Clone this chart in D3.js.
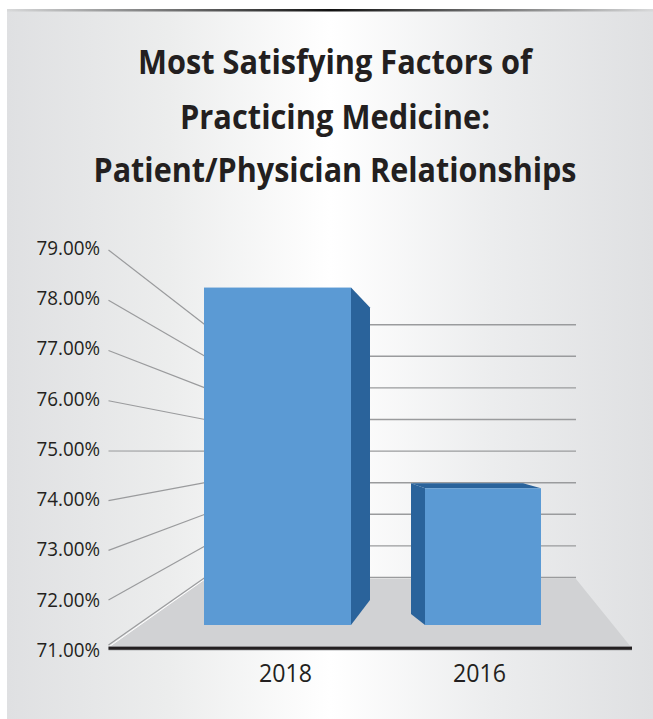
<!DOCTYPE html>
<html>
<head>
<meta charset="utf-8">
<script src="https://cdn.jsdelivr.net/npm/d3@7"></script>
<style>
  html, body { margin: 0; padding: 0; background: #fff; }
  svg { display: block; }
  text { font-family: "Open Sans", sans-serif; fill: #231f20; }
</style>
</head>
<body>
<svg id="chart" width="653" height="719"></svg>
<script>
const titleLines = ["Most Satisfying Factors of", "Practicing Medicine:", "Patient/Physician Relationships"];
const categories = ["2018", "2016"];
const values = [78.6, 74.08];
const ticks = [71, 72, 73, 74, 75, 76, 77, 78, 79];

const svg = d3.select("#chart");
const defs = svg.append("defs");

const bg = defs.append("linearGradient").attr("id", "bg");
bg.append("stop").attr("offset", "0%").attr("stop-color", "#dfe0e2");
bg.append("stop").attr("offset", "25%").attr("stop-color", "#eceded");
bg.append("stop").attr("offset", "50%").attr("stop-color", "#ffffff");
bg.append("stop").attr("offset", "75%").attr("stop-color", "#ecedee");
bg.append("stop").attr("offset", "100%").attr("stop-color", "#dfe0e2");

const topLine = defs.append("linearGradient").attr("id", "topLine");
topLine.append("stop").attr("offset", "0%").attr("stop-color", "#d8d9da");
topLine.append("stop").attr("offset", "50%").attr("stop-color", "#111111");
topLine.append("stop").attr("offset", "100%").attr("stop-color", "#d8d9da");

svg.append("rect").attr("x", 7).attr("y", 9).attr("width", 646).attr("height", 710).attr("fill", "url(#bg)");
svg.append("rect").attr("x", 7).attr("y", 9).attr("width", 646).attr("height", 2.5).attr("fill", "url(#topLine)");

// Open Sans is wider than the original face, so the lines are squeezed to the measured width
svg.append("g").selectAll("text")
  .data(titleLines)
  .enter().append("text")
  .attr("x", 335)
  .attr("y", (d, i) => [74, 128.5, 182][i])
  .attr("text-anchor", "middle")
  .attr("font-size", 33.5)
  .attr("font-weight", 700)
  .attr("textLength", (d, i) => [394, 310, 483][i])
  .attr("lengthAdjust", "spacingAndGlyphs")
  .text(d => d);

// the picture is a 3D chart, so one value has a different y on each plane
const labelY = d3.scaleLinear().domain([71, 79]).range([650, 248]);
const frontY = d3.scaleLinear().domain([71, 72, 75, 79]).range([645, 600, 451, 250]);
const backY = d3.scaleLinear().domain([71, 79]).range([577.5, 324.7]);
const barY = d3.scaleLinear().domain([71, 79]).range([625, 269.8]);
const x = d3.scaleBand().domain(categories).range([188.5, 576.5]);

const frontLeft = 108.5, frontRight = 631, backLeft = 205, backRight = 576;

// floor
svg.append("polygon")
  .attr("points", [[frontLeft, frontY(71) + 2], [backLeft, backY(71) + 1.5], [backRight, backY(71) + 1.5], [frontRight, frontY(71) + 2]].join(" "))
  .attr("fill", "#d1d2d4");
svg.append("line")
  .attr("x1", frontLeft + 1)
  .attr("y1", frontY(71) + 1.5)
  .attr("x2", backLeft)
  .attr("y2", backY(71) + 1.5)
  .attr("stroke", "#ffffff")
  .attr("stroke-width", 1);

// side wall and back wall lines
svg.append("g").selectAll("line")
  .data(ticks)
  .enter().append("line")
  .attr("x1", frontLeft)
  .attr("y1", d => frontY(d))
  .attr("x2", backLeft)
  .attr("y2", d => backY(d))
  .attr("stroke", "#9a9b9d")
  .attr("stroke-width", 1.2);

svg.append("g").selectAll("line")
  .data(ticks)
  .enter().append("line")
  .attr("x1", backLeft)
  .attr("y1", d => backY(d))
  .attr("x2", backRight)
  .attr("y2", d => backY(d))
  .attr("stroke", "#9a9b9d")
  .attr("stroke-width", 1.4);

// face edges relative to the tick centre, and how the depth is pushed on each bar
const faces = {
  "2018": { left: -81.5, right: 65.5, dx: 19, topDy: 20, bottomDy: -25 },
  "2016": { left: -54.5, right: 61.5, dx: -14, topDy: -5, bottomDy: -11 }
};

const bars = categories.map((c, i) => {
  const f = faces[c], cx = x(c) + x.bandwidth() / 2;
  return { c, f, l: cx + f.left, r: cx + f.right, top: barY(values[i]), bottom: barY(71) };
});

const g = svg.append("g");
bars.forEach(b => {
  const edge = b.f.dx > 0 ? b.r : b.l;
  g.append("polygon")
    .attr("points", [[edge, b.top], [edge + b.f.dx, b.top + b.f.topDy], [edge + b.f.dx, b.bottom + b.f.bottomDy], [edge, b.bottom]].join(" "))
    .attr("fill", "#2a639b");
  if (b.f.topDy < 0) {
    g.append("polygon")
      .attr("points", [[b.l, b.top], [b.l + b.f.dx, b.top + b.f.topDy], [b.r - 18, b.top + b.f.topDy], [b.r, b.top]].join(" "))
      .attr("fill", "#2a639b");
  }
  g.append("rect")
    .attr("x", b.l)
    .attr("y", b.top)
    .attr("width", b.r - b.l)
    .attr("height", b.bottom - b.top)
    .attr("fill", "#5b9ad4");
});

// base line, with the soft grey edge it has in the picture
svg.append("line")
  .attr("x1", frontLeft)
  .attr("x2", frontRight + 1)
  .attr("y1", 648.3)
  .attr("y2", 648.3)
  .attr("stroke", "#b4b5b7")
  .attr("stroke-width", 4.6);
svg.append("line")
  .attr("x1", frontLeft)
  .attr("x2", frontRight + 1)
  .attr("y1", 648.3)
  .attr("y2", 648.3)
  .attr("stroke", "#231f20")
  .attr("stroke-width", 3);

const yAxis = svg.append("g")
  .attr("transform", "translate(100,0)")
  .call(d3.axisLeft(labelY).tickValues(ticks).tickSize(0).tickPadding(0).tickFormat(d => d3.format(".2f")(d) + "%"));
yAxis.select(".domain").remove();
yAxis.selectAll("text")
  .attr("font-size", 20)
  .attr("font-family", null)
  .attr("textLength", 63.5)
  .attr("lengthAdjust", "spacingAndGlyphs");

const xAxis = svg.append("g")
  .attr("transform", "translate(0,648)")
  .call(d3.axisBottom(x).tickSize(0).tickPadding(0));
xAxis.select(".domain").remove();
xAxis.selectAll("text")
  .attr("y", 33.5)
  .attr("dy", 0)
  .attr("font-size", 25)
  .attr("font-family", null)
  .attr("textLength", 53)
  .attr("lengthAdjust", "spacingAndGlyphs");
</script>
</body>
</html>
